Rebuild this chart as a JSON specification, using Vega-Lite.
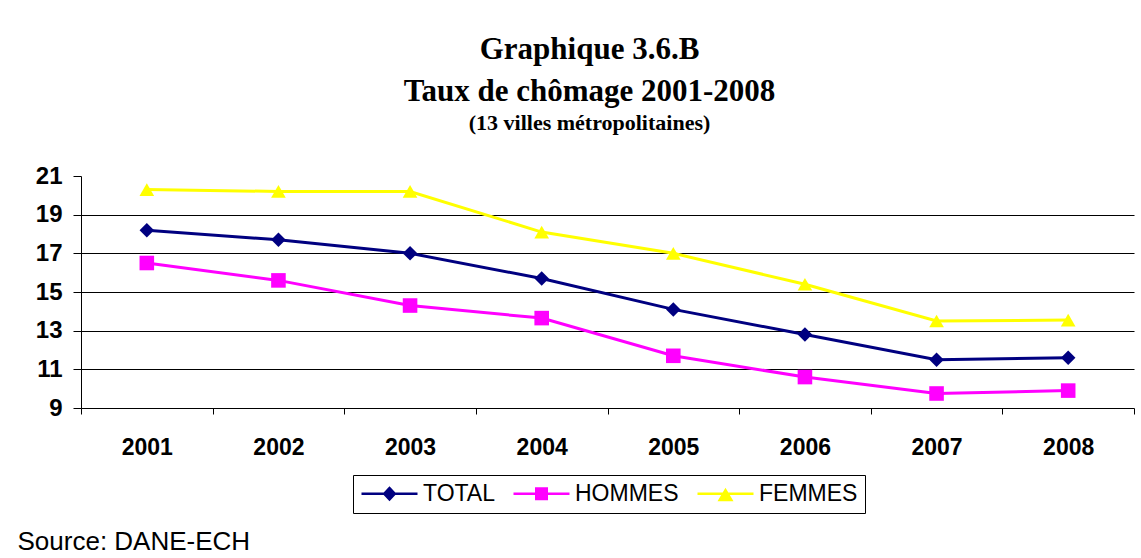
{
  "$schema": "https://vega.github.io/schema/vega-lite/v6.json",
  "width": 1053,
  "height": 232,
  "autosize": {"type": "none"},
  "padding": {"left": 81, "top": 176, "right": 7, "bottom": 150},
  "background": "white",
  "config": {
    "font": "Liberation Sans",
    "view": {"stroke": null}
  },
  "title": {
    "text": ["Graphique 3.6.B", "Taux de chômage 2001-2008"],
    "subtitle": "(13 villes métropolitaines)",
    "font": "Liberation Serif",
    "fontSize": 31,
    "fontWeight": "bold",
    "lineHeight": 42,
    "color": "black",
    "subtitleFont": "Liberation Serif",
    "subtitleFontSize": 22,
    "subtitleFontWeight": "bold",
    "subtitleColor": "black",
    "subtitlePadding": 5,
    "anchor": "middle",
    "dx": -18,
    "offset": 29
  },
  "data": {
    "values": [
      {"year": "2001", "series": "TOTAL", "value": 18.2},
      {"year": "2002", "series": "TOTAL", "value": 17.7},
      {"year": "2003", "series": "TOTAL", "value": 17.0},
      {"year": "2004", "series": "TOTAL", "value": 15.7},
      {"year": "2005", "series": "TOTAL", "value": 14.1},
      {"year": "2006", "series": "TOTAL", "value": 12.8},
      {"year": "2007", "series": "TOTAL", "value": 11.5},
      {"year": "2008", "series": "TOTAL", "value": 11.6},
      {"year": "2001", "series": "HOMMES", "value": 16.5},
      {"year": "2002", "series": "HOMMES", "value": 15.6},
      {"year": "2003", "series": "HOMMES", "value": 14.3},
      {"year": "2004", "series": "HOMMES", "value": 13.65},
      {"year": "2005", "series": "HOMMES", "value": 11.7},
      {"year": "2006", "series": "HOMMES", "value": 10.6},
      {"year": "2007", "series": "HOMMES", "value": 9.75},
      {"year": "2008", "series": "HOMMES", "value": 9.9},
      {"year": "2001", "series": "FEMMES", "value": 20.3},
      {"year": "2002", "series": "FEMMES", "value": 20.2},
      {"year": "2003", "series": "FEMMES", "value": 20.2},
      {"year": "2004", "series": "FEMMES", "value": 18.1},
      {"year": "2005", "series": "FEMMES", "value": 17.0},
      {"year": "2006", "series": "FEMMES", "value": 15.4},
      {"year": "2007", "series": "FEMMES", "value": 13.5},
      {"year": "2008", "series": "FEMMES", "value": 13.55}
    ]
  },
  "encoding": {
    "x": {
      "field": "year",
      "type": "nominal",
      "bandPosition": 0.5,
      "scale": {"type": "band", "paddingInner": 0, "paddingOuter": 0},
      "axis": {
        "title": "Source: DANE-ECH",
        "titleFont": "Liberation Sans",
        "titleFontSize": 26,
        "titleFontWeight": "normal",
        "titleColor": "black",
        "titleAnchor": "start",
        "titleAlign": "left",
        "titleBaseline": "alphabetic",
        "titleX": -64,
        "titleY": 141,
        "labelAngle": 0,
        "labelFont": "Liberation Sans",
        "labelFontSize": 23,
        "labelFontWeight": "bold",
        "labelColor": "black",
        "labelPadding": 22,
        "tickBand": "extent",
        "tickSize": 6,
        "tickColor": "black",
        "domainColor": "black",
        "grid": false
      }
    },
    "y": {
      "field": "value",
      "type": "quantitative",
      "scale": {"domain": [9, 21], "nice": false, "zero": false},
      "axis": {
        "title": null,
        "values": [9, 11, 13, 15, 17, 19, 21],
        "labelFont": "Liberation Sans",
        "labelFontSize": 24,
        "labelFontWeight": "bold",
        "labelColor": "black",
        "labelPadding": 11,
        "tickSize": 8,
        "tickColor": "black",
        "domainColor": "black",
        "grid": true,
        "gridColor": "black",
        "gridOpacity": {"condition": {"test": "datum.value >= 21 || datum.value <= 9", "value": 0}, "value": 1}
      }
    }
  },
  "layer": [
    {
      "mark": {"type": "line", "strokeWidth": 3},
      "encoding": {
        "detail": {"field": "series"},
        "color": {
          "field": "series",
          "type": "nominal",
          "scale": {"domain": ["TOTAL", "HOMMES", "FEMMES"], "range": ["#000080", "#FF00FF", "#FFFF00"]},
          "legend": null
        }
      }
    },
    {
      "mark": {"type": "point", "filled": true, "opacity": 1, "size": 200},
      "encoding": {
        "color": {
          "field": "series",
          "type": "nominal",
          "scale": {"domain": ["TOTAL", "HOMMES", "FEMMES"], "range": ["#000080", "#FF00FF", "#FFFF00"]},
          "legend": null
        },
        "shape": {
          "field": "series",
          "type": "nominal",
          "scale": {"domain": ["TOTAL", "HOMMES", "FEMMES"], "range": ["diamond", "square", "triangle-up"]},
          "legend": null
        },
        "size": {
          "field": "series",
          "type": "nominal",
          "scale": {"domain": ["TOTAL", "HOMMES", "FEMMES"], "range": [210, 215, 270]},
          "legend": null
        }
      }
    },
    {
      "transform": [{"filter": "datum.series == 'NONE'"}],
      "mark": {"type": "point", "filled": true, "opacity": 1, "size": 400, "strokeWidth": 0},
      "encoding": {
        "color": {
          "field": "series",
          "type": "nominal",
          "scale": {"domain": ["TOTAL", "HOMMES", "FEMMES"], "range": ["#000080", "#FF00FF", "#FFFF00"]},
          "legend": {
            "title": null,
            "orient": "none",
            "direction": "horizontal",
            "legendX": 272,
            "legendY": 299,
            "strokeColor": "black",
            "fillColor": "white",
            "padding": 7,
            "symbolSize": 400,
            "symbolStrokeWidth": 0,
            "symbolOffset": 18,
            "labelOffset": 22,
            "columnPadding": 17,
            "labelFont": "Liberation Sans",
            "labelFontSize": 23,
            "labelColor": "black"
          }
        },
        "shape": {
          "field": "series",
          "type": "nominal",
          "scale": {
            "domain": ["TOTAL", "HOMMES", "FEMMES"],
            "range": [
              "M-2.8,-0.12H2.8V0.12H-2.8Z M0,-0.75L0.7,0L0,0.75L-0.7,0Z",
              "M-2.8,-0.12H2.8V0.12H-2.8Z M-0.65,-0.65H0.65V0.65H-0.65Z",
              "M-2.8,-0.12H2.8V0.12H-2.8Z M0,-0.6L0.8,0.75H-0.8Z"
            ]
          },
          "legend": {
            "title": null,
            "orient": "none",
            "direction": "horizontal",
            "legendX": 272,
            "legendY": 299,
            "strokeColor": "black",
            "fillColor": "white",
            "padding": 7,
            "symbolSize": 400,
            "symbolStrokeWidth": 0,
            "symbolOffset": 18,
            "labelOffset": 22,
            "columnPadding": 17,
            "labelFont": "Liberation Sans",
            "labelFontSize": 23,
            "labelColor": "black"
          }
        }
      }
    }
  ],
  "resolve": {"scale": {"color": "independent", "shape": "independent", "size": "independent"}}
}
